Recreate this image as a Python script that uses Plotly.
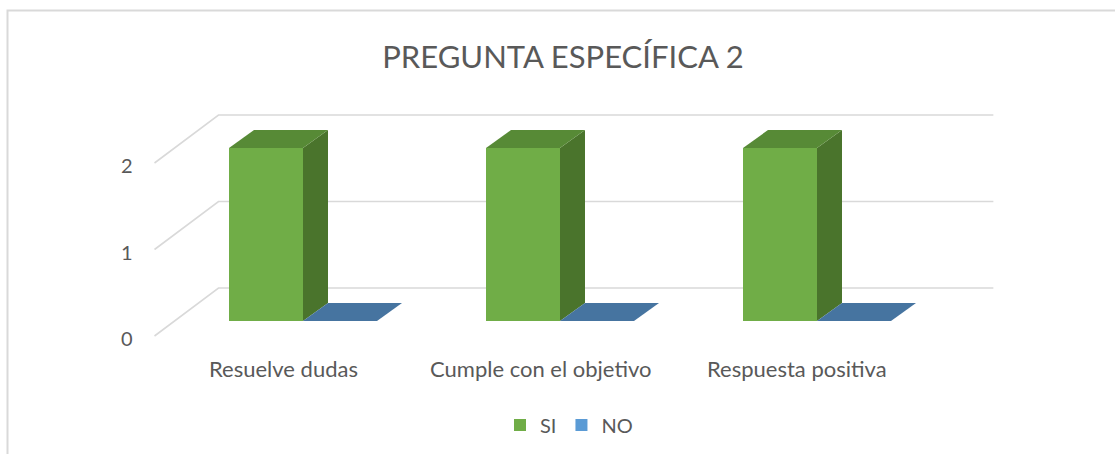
import plotly.graph_objects as go

# --- data ---
categories = ["Resuelve dudas", "Cumple con el objetivo", "Respuesta positiva"]
si_values = [2, 2, 2]
no_values = [0, 0, 0]
value_ticks = [0, 1, 2]
title_text = "PREGUNTA ESPECÍFICA 2"

# --- pseudo-3D projection (data units: x = category, y = value) ---
W, H = 1115, 454
PX_CAT, PX_VAL = 257.0, 86.5          # pixels per category / per value unit
ORIGIN_X, ORIGIN_Y = 303.0, 321.0     # pixel of category 0, value 0 (bar plane)

BAR_W = 74 / PX_CAT                    # bar width in category units
BAR_D = (25 / PX_CAT, 18 / PX_VAL)     # bar depth vector
BACK = (44 / PX_CAT, 33 / PX_VAL)      # back wall offset from bar plane
FRONT = (-20 / PX_CAT, -15 / PX_VAL)   # front edge offset from bar plane

x_range = [-ORIGIN_X / PX_CAT, (W - ORIGIN_X) / PX_CAT]
y_range = [-(H - ORIGIN_Y) / PX_VAL, ORIGIN_Y / PX_VAL]

GRID = "#d9d9d9"
TEXT = "#595959"
FONT = "Lato"
SI_COLORS = dict(front="#70ad47", top="#578a36", side="#4a742c")
NO_COLORS = dict(front="#5b9bd5", top="#4674a0", side="#3c6590")

n = len(categories)
left, right = -0.5, n - 0.5

fig = go.Figure()

# gridlines (side wall diagonal + back wall horizontal), kept under the bars
shapes = []
for v in value_ticks:
    shapes.append(dict(
        type="path", xref="x", yref="y", layer="below",
        path=(f"M {left + FRONT[0]},{v + FRONT[1]} "
              f"L {left + BACK[0]},{v + BACK[1]} "
              f"L {right + BACK[0] + 0.015},{v + BACK[1]}"),
        line=dict(color=GRID, width=1.6)))

# chart frame
shapes.append(dict(
    type="path", xref="paper", yref="paper",
    path=f"M {7.5 / W},0 L {7.5 / W},{1 - 10.5 / H} L 1,{1 - 10.5 / H}",
    line=dict(color=GRID, width=2)))


def box_faces(x0, x1, h, colors):
    dx, dy = BAR_D
    top = go.Scatter(
        x=[x0, x1, x1 + dx, x0 + dx, x0], y=[h, h, h + dy, h + dy, h],
        fill="toself", fillcolor=colors["top"], mode="lines",
        line=dict(width=0, color=colors["top"]), hoverinfo="skip", showlegend=False)
    side = go.Scatter(
        x=[x1, x1 + dx, x1 + dx, x1, x1], y=[0, dy, h + dy, h, 0],
        fill="toself", fillcolor=colors["side"], mode="lines",
        line=dict(width=0, color=colors["side"]), hoverinfo="skip", showlegend=False)
    return [side, top]


# front faces as bars
fig.add_trace(go.Bar(
    x=[i - BAR_W / 2 for i in range(n)], y=si_values, width=BAR_W,
    name="SI", marker=dict(color=SI_COLORS["front"], line=dict(width=0))))
fig.add_trace(go.Bar(
    x=[i + BAR_W / 2 for i in range(n)], y=no_values, width=BAR_W,
    name="NO", marker=dict(color=NO_COLORS["front"], line=dict(width=0))))

# side and top faces
for i in range(n):
    for tr in box_faces(i - BAR_W, i, si_values[i], SI_COLORS):
        fig.add_trace(tr)
    for tr in box_faces(i, i + BAR_W, no_values[i], NO_COLORS):
        fig.add_trace(tr)

annotations = []
for v in value_ticks:
    annotations.append(dict(
        x=left + FRONT[0], y=v + FRONT[1], text=str(v), showarrow=False,
        xanchor="right", yanchor="middle", xshift=-20, yshift=-2,
        font=dict(family=FONT, size=20, color=TEXT)))
for i, c in enumerate(categories):
    annotations.append(dict(
        x=i + FRONT[0], y=FRONT[1], text=c, showarrow=False,
        xanchor="center", yanchor="middle", yshift=-32,
        font=dict(family=FONT, size=22, color=TEXT)))

fig.update_layout(
    width=W, height=H,
    margin=dict(l=0, r=0, t=0, b=0),
    paper_bgcolor="white", plot_bgcolor="white",
    barmode="overlay", bargap=0,
    xaxis=dict(range=x_range, visible=False, fixedrange=True),
    yaxis=dict(range=y_range, visible=False, fixedrange=True),
    title=dict(text=title_text, x=563 / W, xanchor="center",
               y=1 - 57 / H, yanchor="middle",
               font=dict(family=FONT, size=31, color=TEXT)),
    legend=dict(orientation="h", x=569 / W, xanchor="center",
                y=1 - 425 / H, yanchor="middle",
                font=dict(family=FONT, size=20, color=TEXT),
                itemwidth=30, traceorder="normal", bgcolor="rgba(0,0,0,0)"),
    annotations=annotations,
    shapes=shapes,
    showlegend=True,
)

fig.write_html("out.html")
